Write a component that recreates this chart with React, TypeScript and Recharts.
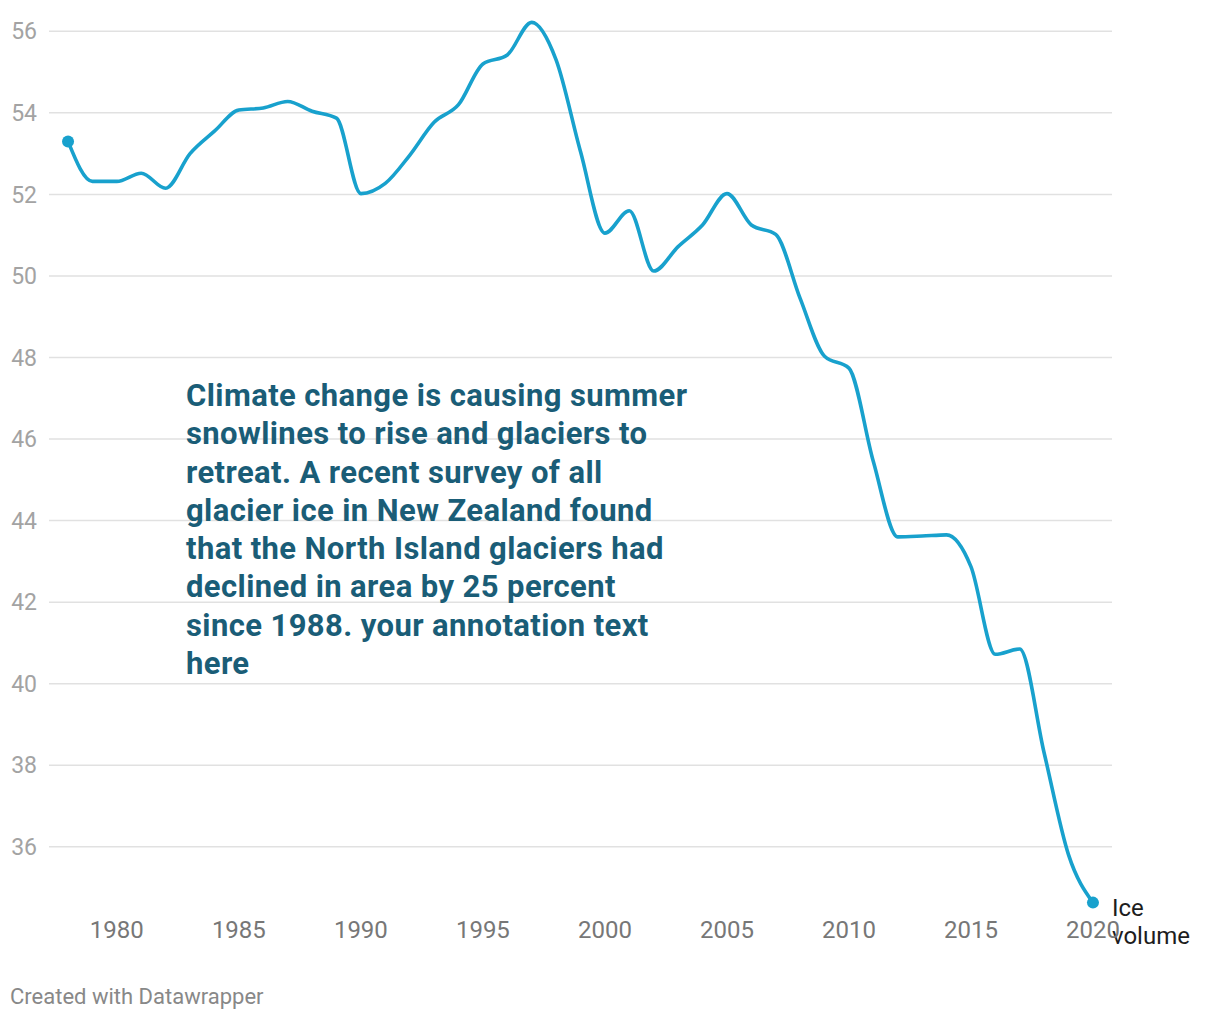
import { LineChart, Line, XAxis, YAxis, CartesianGrid } from "recharts";

const years = [
  1978, 1979, 1980, 1981, 1982, 1983, 1984, 1985, 1986, 1987, 1988, 1989, 1990, 1991,
  1992, 1993, 1994, 1995, 1996, 1997, 1998, 1999, 2000, 2001, 2002, 2003, 2004, 2005,
  2006, 2007, 2008, 2009, 2010, 2011, 2012, 2013, 2014, 2015, 2016, 2017, 2018, 2019, 2020,
];
const iceVolume = [
  53.3, 52.32, 52.32, 52.52, 52.15, 53.0, 53.55, 54.07, 54.12, 54.28, 54.04, 53.87, 52.02, 52.27,
  52.96, 53.77, 54.2, 55.2, 55.42, 56.22, 55.3, 53.05, 51.05, 51.6, 50.12, 50.72, 51.25, 52.02,
  51.25, 51.02, 49.45, 48.03, 47.74, 45.45, 43.6, 43.62, 43.65, 42.87, 40.72, 40.85, 38.3, 35.8, 34.63,
];
const xTicks = [1980, 1985, 1990, 1995, 2000, 2005, 2010, 2015, 2020];
const yTicks = [36, 38, 40, 42, 44, 46, 48, 50, 52, 54, 56];
const seriesName = ["Ice", "volume"];
const annotationLines = [
  "Climate change is causing summer",
  "snowlines to rise and glaciers to",
  "retreat. A recent survey of all",
  "glacier ice in New Zealand found",
  "that the North Island glaciers had",
  "declined in area by 25 percent",
  "since 1988. your annotation text",
  "here",
];

const data = years.map((year, i) => ({ year, value: iceVolume[i] }));

const LINE_COLOR = "#18a1cd";
const FONT = "Roboto, sans-serif";

// dots only on the first and last point, plus the series label at the end
function EndDot(props: any) {
  const { cx, cy, index } = props;
  const last = data.length - 1;
  if (index !== 0 && index !== last) return <g key={`d${index}`} />;
  return (
    <g key={`d${index}`}>
      <circle cx={cx} cy={cy} r={6} fill={LINE_COLOR} />
      {index === last && (
        <text x={cx + 19} y={cy} fontFamily={FONT} fontSize={24} fill="#1d1d1d">
          <tspan x={cx + 19} dy={13}>{seriesName[0]}</tspan>
          <tspan x={cx + 19} dy={28}>{seriesName[1]}</tspan>
        </text>
      )}
    </g>
  );
}

export default function App() {
  return (
    <div style={{ position: "relative", left: -8, top: -8, width: 1220, height: 1020, background: "#fff", fontFamily: FONT }}>
      <LineChart
        width={1220}
        height={1020}
        data={data}
        margin={{ top: 15, right: 108, bottom: 78, left: 0 }}
      >
        <CartesianGrid
          vertical={false}
          horizontalValues={yTicks}
          stroke="#e1e1e1"
          strokeWidth={1.5}
        />
        <XAxis
          dataKey="year"
          type="number"
          domain={[1977.22, 2020.78]}
          ticks={xTicks}
          axisLine={false}
          tickLine={false}
          tickSize={0}
          tickMargin={9}
          height={30}
          tick={{ fill: "#777777", fontSize: 24, fontFamily: FONT }}
        />
        <YAxis
          type="number"
          domain={[34.4, 56.4]}
          ticks={yTicks}
          axisLine={false}
          tickLine={false}
          tickSize={0}
          tickMargin={12}
          width={49}
          tick={{ fill: "#a3a3a3", fontSize: 23, fontFamily: FONT }}
        />
        <Line
          type="monotone"
          dataKey="value"
          stroke={LINE_COLOR}
          strokeWidth={3.6}
          dot={EndDot}
          activeDot={false}
          isAnimationActive={false}
        />
      </LineChart>
      <div
        style={{
          position: "absolute",
          left: 186,
          top: 377,
          color: "#1a5d77",
          fontWeight: 700,
          fontSize: 31,
          letterSpacing: 0.4,
          lineHeight: "38.3px",
          whiteSpace: "nowrap",
        }}
      >
        {annotationLines.map((l) => (
          <div key={l}>{l}</div>
        ))}
      </div>
      <div style={{ position: "absolute", left: 10, top: 984, color: "#888888", fontSize: 22 }}>
        Created with Datawrapper
      </div>
    </div>
  );
}
